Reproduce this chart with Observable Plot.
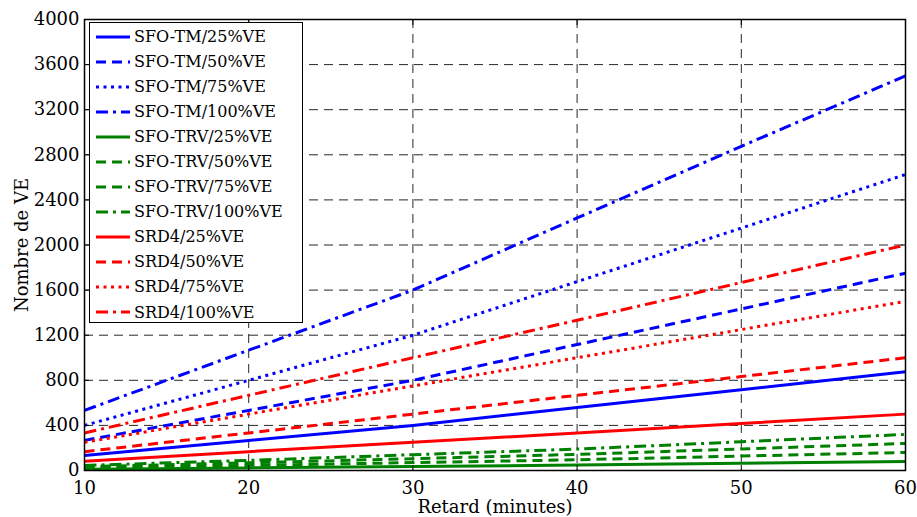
<!DOCTYPE html>
<html><head><meta charset="utf-8">
<script src="https://cdn.jsdelivr.net/npm/d3@7"></script>
<script src="https://cdn.jsdelivr.net/npm/@observablehq/plot@0.6"></script>
<style>
html,body{margin:0;padding:0;background:#fff;}
#wrap{position:relative;width:917px;height:517px;overflow:hidden;}
#legend{position:absolute;left:89px;top:22px;width:214px;height:301px;border:1.2px solid #000;background:#fff;box-sizing:border-box;font-family:"DejaVu Serif";font-size:16px;color:#000;padding-top:1px;}
.row{height:25.05px;display:flex;align-items:center;white-space:nowrap;}
.row svg{margin-left:6px;margin-right:4px;flex:none;}
</style></head><body><div id="wrap"></div>
<script>
// ---- data ----
const minutes = [10, 20, 30, 40, 50, 60];
const xTicks = [10, 20, 30, 40, 50, 60];
const yTicks = [0, 400, 800, 1200, 1600, 2000, 2400, 2800, 3200, 3600, 4000];
const seriesNames = [
  "SFO-TM/25%VE", "SFO-TM/50%VE", "SFO-TM/75%VE", "SFO-TM/100%VE",
  "SFO-TRV/25%VE", "SFO-TRV/50%VE", "SFO-TRV/75%VE", "SFO-TRV/100%VE",
  "SRD4/25%VE", "SRD4/50%VE", "SRD4/75%VE", "SRD4/100%VE"
];
const tm25 = [133, 267, 400, 558, 717, 875];
const tm50 = [267, 533, 800, 1117, 1433, 1750];
const tm75 = [400, 800, 1200, 1675, 2150, 2625];
const tm100 = [533, 1067, 1600, 2240, 2875, 3500];
const trv25 = [11, 23, 35, 48, 64, 80];
const trv50 = [23, 45, 70, 95, 128, 160];
const trv75 = [34, 68, 105, 143, 191, 240];
const trv100 = [45, 90, 140, 190, 255, 320];
const srd25 = [83, 167, 250, 333, 417, 500];
const srd50 = [167, 333, 500, 667, 833, 1000];
const srd75 = [250, 500, 750, 1000, 1250, 1500];
const srd100 = [333, 667, 1000, 1333, 1667, 2000];
const seriesValues = [tm25, tm50, tm75, tm100, trv25, trv50, trv75, trv100, srd25, srd50, srd75, srd100];

// ---- styles ----
const BLUE = "#0000ff", GREEN = "#008000", RED = "#ff0000";
const SOLID = null, DASH = "10,6", DOT = "3,4.5", DASHDOT = "12,5,3,5";
const styles = [
  [BLUE, SOLID], [BLUE, DASH], [BLUE, DOT], [BLUE, DASHDOT],
  [GREEN, SOLID], [GREEN, DASH], [GREEN, DASH], [GREEN, DASHDOT],
  [RED, SOLID], [RED, DASH], [RED, DOT], [RED, DASHDOT]
];
const LW = 3;

const lineMarks = seriesValues.map((vals, i) => {
  const rows = minutes.map((m, j) => ({x: m, y: vals[j]}));
  return Plot.line(rows, {x: "x", y: "y", stroke: styles[i][0], strokeWidth: LW,
    strokeDasharray: styles[i][1] || undefined, strokeLinecap: "butt", strokeLinejoin: "round"});
});

const gridStyle = {stroke: "#000", strokeOpacity: 0.85, strokeWidth: 1, strokeDasharray: "9,6"};
const blank = () => "";
const plain = d => String(d);

const chart = Plot.plot({
  width: 917, height: 517,
  marginLeft: 84, marginRight: 12, marginTop: 19, marginBottom: 47,
  style: {fontFamily: "DejaVu Serif", fontSize: "18px", color: "#000", background: "#fff", overflow: "visible"},
  x: {domain: [10, 60]},
  y: {domain: [0, 4000]},
  marks: [
    Plot.gridX(xTicks.slice(1, -1), gridStyle),
    Plot.gridY(yTicks.slice(1, -1), gridStyle),
    ...lineMarks,
    Plot.axisX(xTicks, {anchor: "bottom", tickSize: 0, tickPadding: 11, tickFormat: plain, label: null, fontSize: 18}),
    Plot.axisY(yTicks, {anchor: "left", tickSize: 0, tickPadding: 5, tickFormat: plain, label: null, fontSize: 18}),
    Plot.axisX(xTicks, {anchor: "bottom", tickSize: -5, tickFormat: blank, label: null}),
    Plot.axisX(xTicks, {anchor: "top", tickSize: -5, tickFormat: blank, label: null}),
    Plot.axisY(yTicks, {anchor: "left", tickSize: -5, tickFormat: blank, label: null}),
    Plot.axisY(yTicks, {anchor: "right", tickSize: -5, tickFormat: blank, label: null}),
    Plot.frame({stroke: "#000", strokeWidth: 1.5}),
    Plot.text(["Retard (minutes)"], {frameAnchor: "bottom", lineAnchor: "middle", textAnchor: "middle", dy: 37, fontSize: 18}),
    Plot.text(["Nombre de VE"], {frameAnchor: "left", textAnchor: "middle", lineAnchor: "middle", dx: -62, rotate: -90, fontSize: 18})
  ]
});

const wrap = document.getElementById("wrap");
wrap.appendChild(chart);

// legend (HTML overlay)
const legend = document.createElement("div");
legend.id = "legend";
seriesNames.forEach((name, i) => {
  const row = document.createElement("div");
  row.className = "row";
  const [c, d] = styles[i];
  row.innerHTML = `<svg width="34" height="8"><line x1="0" y1="4" x2="34" y2="4" stroke="${c}" stroke-width="${LW}" ${d ? `stroke-dasharray="${d}"` : ""}/></svg><span>${name}</span>`;
  legend.appendChild(row);
});
wrap.appendChild(legend);
</script>
</body></html>
